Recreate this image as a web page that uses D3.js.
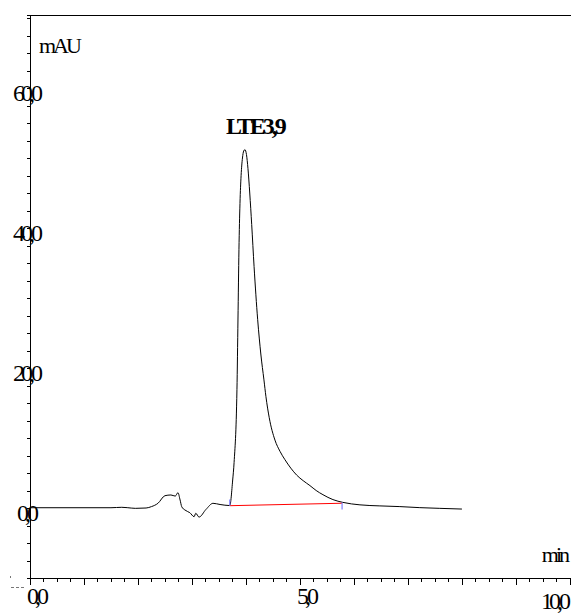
<!DOCTYPE html>
<html><head><meta charset="utf-8">
<script src="https://cdn.jsdelivr.net/npm/d3@7"></script>
<style>body{margin:0;background:#fff}svg{display:block}</style>
</head><body><div id="c"></div>
<script>
// time (min) and absorbance (mAU)
const times = [0.00,1.50,1.70,1.80,1.95,2.15,2.25,2.37,2.50,2.61,2.69,2.74,2.78,2.81,2.87,2.96,3.04,3.07,3.13,3.26,3.39,3.52,3.70,3.754,3.78,3.833,3.852,3.870,3.889,3.910,3.935,3.958,3.981,4.009,4.037,4.070,4.106,4.150,4.217,4.275,4.333,4.370,4.431,4.537,4.630,4.722,4.830,4.939,5.060,5.185,5.300,5.426,5.611,5.796,6.111,6.48,6.85,7.22,7.59,8.00];
const signal = [0.04,0.04,0.10,0.05,-0.05,0.0,0.2,0.67,1.76,1.86,1.7,2.19,1.14,0.19,-0.29,-0.67,-1.24,-0.75,-1.3,-0.2,0.67,0.5,0.35,4.0,6.5,16.9,27.0,36.9,43.5,47.5,50.0,51.0,51.2,50.5,48.5,45.0,40.5,34.5,26.9,22.0,18.3,15.9,12.9,9.7,8.1,6.9,5.7,4.7,3.9,3.2,2.5,1.9,1.2,0.8,0.45,0.3,0.2,0.05,-0.05,-0.15];
const peakLabel = "LTE3,9";
const peakTime = 3.98;
const peakValue = 51.1;
const baselineT = [3.70, 5.78];
const baselineV = [0.33, 0.68];
const yTickLabels = [0, 20, 40, 60];
const xTickLabels = [0, 5, 10];

const FONT = "Liberation Serif";
const W = 571, H = 615;
const svg = d3.select("#c").append("svg").attr("width", W).attr("height", H);
const x = d3.scaleLinear().domain([0, 10.02]).range([30, 571]);
const y = d3.scaleLinear().domain([-10, 70.43]).range([578, 15]);
const fmt = v => d3.format(".1f")(v).replace(".", ",");

// axes lines
svg.append("line").attr("x1", 27).attr("x2", 571).attr("y1", 15.5).attr("y2", 15.5).attr("stroke", "#000");
svg.append("line").attr("x1", 30.5).attr("x2", 30.5).attr("y1", 15).attr("y2", 578).attr("stroke", "#000");
svg.append("line").attr("x1", 27).attr("x2", 571).attr("y1", 578.5).attr("y2", 578.5).attr("stroke", "#000");

// y minor ticks every 2.5 mAU
const yt = d3.range(-10, 70.01, 2.5);
svg.selectAll(".yt").data(yt).enter().append("line")
  .attr("x1", 27).attr("x2", 30).attr("y1", d => Math.round(y(d)) + 0.5).attr("y2", d => Math.round(y(d)) + 0.5)
  .attr("stroke", "#000");
// x ticks every 0.25 min
const xt = d3.range(0, 10.01, 0.25);
svg.selectAll(".xt").data(xt).enter().append("line")
  .attr("x1", d => Math.round(x(d)) + 0.5).attr("x2", d => Math.round(x(d)) + 0.5)
  .attr("y1", 578).attr("y2", d => Math.abs(d - Math.round(d)) < 1e-6 ? 585 : 582)
  .attr("stroke", "#000");

// y labels
svg.selectAll(".yl").data(yTickLabels).enter().append("text")
  .attr("font-family", FONT)
  .attr("x", 26).attr("y", d => y(d) + 13).attr("text-anchor", "middle")
  .attr("font-size", 24).attr("letter-spacing", -4).text(d => fmt(d));
// x labels
svg.selectAll(".xl").data(xTickLabels).enter().append("text")
  .attr("font-family", FONT)
  .attr("x", d => d === 10 ? 567 : x(d) + 6).attr("y", d => d === 10 ? 609 : 604)
  .attr("text-anchor", d => d === 10 ? "end" : "middle")
  .attr("font-size", 24).attr("letter-spacing", -4).text(d => fmt(d));

svg.append("text").attr("font-family", FONT).attr("x", 39).attr("y", 53).attr("font-size", 22).attr("letter-spacing", -3).text("mAU");
svg.append("text").attr("font-family", FONT).attr("x", 567).attr("y", 562).attr("text-anchor", "end").attr("font-size", 22).attr("letter-spacing", -3).text("min");

// clipped fragment marks bottom-left
svg.append("line").attr("x1", 11).attr("x2", 25).attr("y1", 587.5).attr("y2", 587.5).attr("stroke", "#777").attr("stroke-dasharray", "3,2");
svg.append("rect").attr("x", 10).attr("y", 576).attr("width", 1).attr("height", 2).attr("fill", "#777");

// trace
const pts = times.map((t, i) => [t, signal[i]]);
svg.append("path").datum(pts)
  .attr("d", d3.line().curve(d3.curveMonotoneX).x(d => x(d[0])).y(d => y(d[1])))
  .attr("fill", "none").attr("stroke", "#000").attr("stroke-width", 1);

// integration baseline
svg.append("line").attr("x1", x(baselineT[0])).attr("x2", x(baselineT[1]))
  .attr("y1", y(baselineV[0])).attr("y2", y(baselineV[1])).attr("stroke", "#ff0000").attr("stroke-width", 1);
svg.append("line").attr("x1", x(baselineT[0])).attr("x2", x(baselineT[0]))
  .attr("y1", y(baselineV[0] + 0.9)).attr("y2", y(baselineV[0])).attr("stroke", "#8080ff").attr("stroke-width", 1.2);
svg.append("line").attr("x1", x(baselineT[1])).attr("x2", x(baselineT[1]))
  .attr("y1", y(baselineV[1] + 0.1)).attr("y2", y(baselineV[1] - 0.9)).attr("stroke", "#8080ff").attr("stroke-width", 1.2);

// peak label
svg.append("text").attr("font-family", FONT).attr("x", x(peakTime) + 10).attr("y", y(peakValue) - 16)
  .attr("text-anchor", "middle").attr("font-size", 24).attr("font-weight", "bold")
  .attr("letter-spacing", -3).text(peakLabel);
</script></body></html>
